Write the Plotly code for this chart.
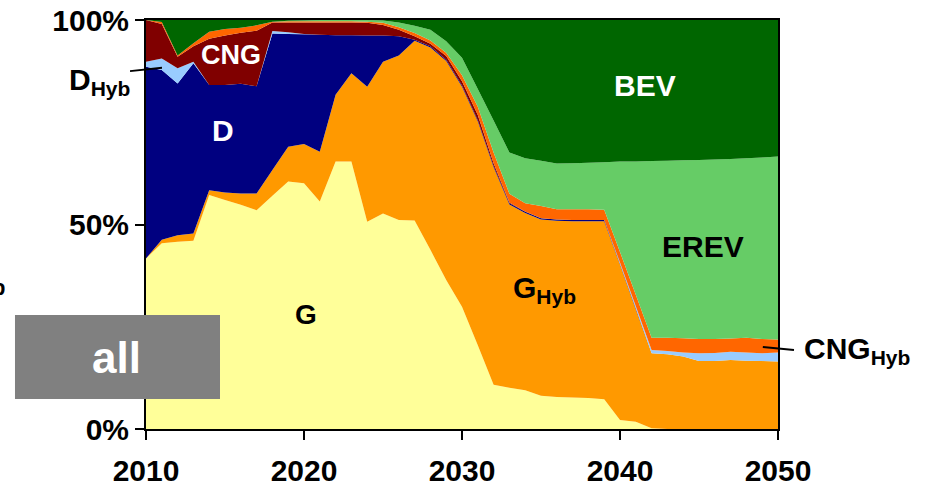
import plotly.graph_objects as go

years = list(range(2010, 2051))

g = [41.7, 45.4, 45.8, 46.0, 57.2, 56.0, 54.8, 53.5, 57.0, 60.5, 60.1, 55.6, 65.4, 65.4, 50.7, 52.7, 51.1, 51.0, 43.8, 36.4,
     29.9, 20.5, 10.8, 10.1, 9.5, 8.1, 7.8, 7.7, 7.6, 7.3, 2.2, 1.8, 0.2, 0, 0, 0, 0, 0, 0, 0, 0]
g_hyb = [0.0, 0.9, 1.6, 1.8, 1.2, 1.8, 2.8, 4.1, 6.3, 8.5, 9.6, 12.2, 16.3, 21.6, 33.0, 37.1, 40.2, 43.9, 49.5, 53.6,
         53.8, 54.7, 53.2, 44.8, 43.3, 43.1, 43.1, 43.1, 43.2, 43.5, 38.0, 27.5, 18.3, 18.3, 17.7, 16.6, 16.6, 16.9, 16.7, 16.6, 16.5]
d = [46.9, 41.5, 37.1, 41.6, 25.7, 26.3, 26.8, 26.2, 33.4, 27.6, 26.8, 28.6, 14.6, 9.3, 12.5, 6.4, 4.7, 0.3, 0.3, 0.3,
     0.3, 0.3, 0.3, 0.3, 0.3, 0.3, 0.3, 0.3, 0.3, 0.3, 0.2, 0.2, 0, 0, 0, 0, 0, 0, 0, 0, 0]
d_hyb = [1.2, 2.8, 3.7, 0.4, 0, 0, 0, 0, 0.6, 0.4, 0.1, 0, 0, 0, 0, 0, 0, 0, 0, 0,
         0, 0, 0, 0, 0, 0, 0, 0, 0, 0, 0.3, 0.5, 0.8, 0.8, 1.0, 1.9, 2.0, 2.0, 2.0, 1.9, 2.2]
cng = [10.2, 8.4, 2.8, 3.8, 11.3, 12.1, 12.5, 13.6, 2.1, 2.4, 2.8, 3.0, 3.1, 3.1, 3.1, 2.6, 1.6, 0.8, 0.6, 0.9,
       1.0, 1.3, 0.7, 0.2, 0.1, 0, 0, 0, 0, 0, 0, 0, 0, 0, 0, 0, 0, 0, 0, 0, 0]
cng_hyb = [0, 0.5, 0.3, 0.7, 1.7, 1.6, 1.2, 1.3, 0.2, 0.3, 0.3, 0.3, 0.3, 0.3, 0.3, 0.5, 0.6, 0.8, 0.8, 0.8,
           1.5, 2.0, 2.6, 2.1, 2.0, 3.0, 2.5, 2.6, 2.6, 2.5, 2.6, 2.8, 3.0, 3.2, 3.5, 3.5, 3.4, 3.2, 3.6, 3.5, 3.2]
erev = [0, 0, 0, 0, 0, 0, 0, 0, 0, 0.1, 0.2, 0.3, 0.3, 0.3, 0.4, 0.6, 1.2, 1.8, 2.6, 2.8,
        4.3, 4.3, 7.8, 10.1, 11.0, 11.1, 11.2, 11.3, 11.4, 11.6, 22.1, 32.6, 43.2, 43.3, 43.5, 43.8, 43.9, 43.9, 43.9, 44.4, 44.7]
bev = [0, 0.5, 8.7, 5.7, 2.9, 2.2, 1.9, 1.3, 0.4, 0.2, 0.1, 0, 0, 0, 0, 0.1, 0.6, 1.4, 2.4, 5.2,
       9.2, 16.9, 24.6, 32.4, 33.8, 34.4, 35.1, 35.0, 34.9, 34.8, 34.6, 34.6, 34.5, 34.4, 34.3, 34.2, 34.1, 34.0, 33.8, 33.6, 33.4]

series = [
    ("G", g, "#FFFF99"),
    ("G_Hyb", g_hyb, "#FF9900"),
    ("D", d, "#000080"),
    ("D_Hyb", d_hyb, "#99CCFF"),
    ("CNG", cng, "#800000"),
    ("CNG_Hyb", cng_hyb, "#FF6600"),
    ("EREV", erev, "#66CC66"),
    ("BEV", bev, "#006600"),
]

x_ticks = [2010, 2020, 2030, 2040, 2050]
y_ticks = [0, 50, 100]
y_tick_labels = ["0%", "50%", "100%"]

FONT = "Liberation Sans, Arial, sans-serif"

fig = go.Figure()
for name, vals, col in series:
    fig.add_trace(go.Scatter(x=years, y=vals, name=name, mode="none", stackgroup="one",
                             groupnorm="percent" if name == "G" else None,
                             fillcolor=col, hoverinfo="skip"))

fig.update_layout(
    width=931, height=489,
    margin=dict(l=146, r=153, t=20, b=60, autoexpand=False),
    paper_bgcolor="white", plot_bgcolor="white",
    showlegend=False,
    font=dict(family=FONT, color="black"),
)
fig.update_xaxes(range=[2010, 2050], tickmode="array", tickvals=x_ticks, ticks="outside", ticklen=9, tickwidth=2,
                 tickcolor="black", showline=True, linewidth=2, linecolor="black", mirror=True,
                 showgrid=False, zeroline=False, automargin=False, ticklabelstandoff=5,
                 tickfont=dict(family=FONT, size=30, weight="bold", color="black"))
fig.update_yaxes(range=[0, 100], tickmode="array", tickvals=y_ticks, ticktext=y_tick_labels,
                 ticks="outside", ticklen=9, tickwidth=2,
                 tickcolor="black", showline=True, linewidth=2, linecolor="black", mirror=True,
                 showgrid=False, zeroline=False, automargin=False,
                 tickfont=dict(family=FONT, size=30, weight="bold", color="black"))

def ann(text, x, y, size, color="black", xref="x", yref="y", xanchor="center"):
    fig.add_annotation(text=text, x=x, y=y, xref=xref, yref=yref, showarrow=False,
                       xanchor=xanchor, yanchor="middle",
                       font=dict(family=FONT, size=size, color=color, weight="bold"))

ann("BEV", 2041.6, 84.1, 30, "white")
ann("EREV", 2045.25, 44.7, 30)
ann("G<sub>Hyb</sub>", 2035.2, 34.0, 30)
ann("G", 2020.1, 27.9, 28)
ann("D", 2014.9, 72.9, 30, "white")
ann("CNG", 2015.4, 91.4, 27, "white")
ann("D<sub>Hyb</sub>", -0.0728, 0.85, 30, xref="paper", yref="paper")
ann("CNG<sub>Hyb</sub>", 1.125, 0.193, 30, xref="paper", yref="paper")

# leader lines
fig.add_shape(type="line", xref="paper", yref="paper", x0=-0.0253, y0=0.875, x1=0.0253, y1=0.883,
              line=dict(color="black", width=2), layer="above")
fig.add_shape(type="line", xref="paper", yref="paper", x0=0.976, y0=0.2005, x1=1.0253, y1=0.193,
              line=dict(color="black", width=2), layer="above")

# gray "all" box
fig.add_shape(type="rect", xref="paper", yref="paper", x0=-0.2073, x1=0.1171, y0=0.0733, y1=0.2787,
              fillcolor="#808080", line=dict(width=0), layer="above")
ann("all", -0.0459, 0.176, 44, "white", xref="paper", yref="paper")

# clipped fragment at left edge
ann("Hyb", -0.2184, 0.345, 22, xref="paper", yref="paper", xanchor="right")

fig.write_html("out.html")
